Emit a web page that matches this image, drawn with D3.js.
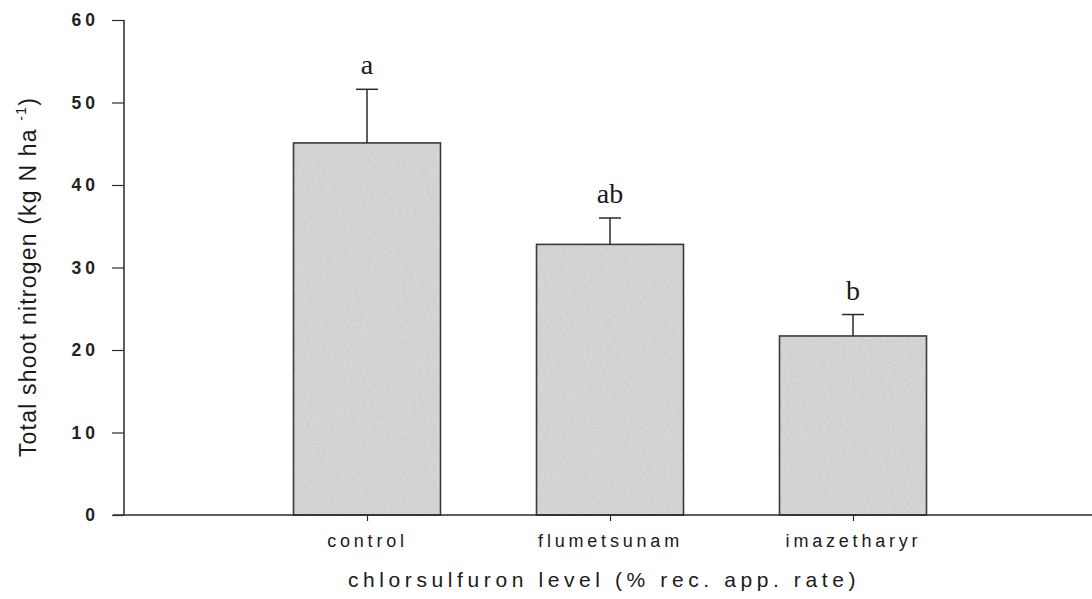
<!DOCTYPE html>
<html>
<head>
<meta charset="utf-8">
<script src="https://cdn.jsdelivr.net/npm/d3@7"></script>
<style>
  html, body { margin: 0; padding: 0; background: #fff; }
  svg { display: block; }
</style>
</head>
<body>
<svg id="chart" width="1092" height="599"></svg>
<script>
// Treatments and their mean total shoot nitrogen (kg N/ha) with standard error
const categories = ["control", "flumetsunam", "imazetharyr"];
const means = [45.1, 32.8, 21.7];
const errors = [6.5, 3.2, 2.6];
const letters = ["a", "ab", "b"];
const yTicks = [0, 10, 20, 30, 40, 50, 60];

const svg = d3.select("#chart");
const sans = "Arial, 'Liberation Sans', sans-serif";

// Categories sit at positions 1..3 on a 0..4 linear axis
const x = d3.scaleLinear().domain([0, 4]).range([124, 1096]);
const y = d3.scaleLinear().domain([0, 60]).range([515, 20]);
const barWidth = 147;

// Stippled grey texture for the bars
const defs = svg.append("defs");
const filt = defs.append("filter").attr("id", "grain")
  .attr("x", 0).attr("y", 0).attr("width", 1).attr("height", 1);
filt.append("feTurbulence").attr("type", "fractalNoise")
  .attr("baseFrequency", "0.3 0.55").attr("numOctaves", 2).attr("seed", 4).attr("result", "noise");
filt.append("feColorMatrix").attr("in", "noise").attr("type", "matrix")
  .attr("values", "0 0 0 0 0.6  0 0 0 0 0.6  0 0 0 0 0.6  0 0 0 -1.8 1.15")
  .attr("result", "speck");
filt.append("feComposite").attr("in", "speck").attr("in2", "SourceGraphic").attr("operator", "in").attr("result", "specks");
filt.append("feMerge").selectAll("feMergeNode")
  .data(["SourceGraphic", "specks"]).enter().append("feMergeNode").attr("in", d => d);

const axisColor = "#2a2a2a";

// Bars
const bars = svg.append("g");
bars.selectAll("rect.fill").data(means).enter().append("rect")
  .attr("class", "fill")
  .attr("x", (d, i) => x(i + 1) - barWidth / 2)
  .attr("y", d => y(d))
  .attr("width", barWidth)
  .attr("height", d => y(0) - y(d))
  .attr("fill", "#d6d6d6")
  .attr("filter", "url(#grain)");
bars.selectAll("rect.edge").data(means).enter().append("rect")
  .attr("class", "edge")
  .attr("x", (d, i) => x(i + 1) - barWidth / 2)
  .attr("y", d => y(d))
  .attr("width", barWidth)
  .attr("height", d => y(0) - y(d))
  .attr("fill", "none")
  .attr("stroke", "#3a3a3a")
  .attr("stroke-width", 1.6);

// Error bars (upper half only)
const eb = svg.append("g").attr("stroke", "#2a2a2a").attr("stroke-width", 1.5);
means.forEach((m, i) => {
  const cx = x(i + 1);
  eb.append("line").attr("x1", cx).attr("x2", cx).attr("y1", y(m)).attr("y2", y(m + errors[i]));
  eb.append("line").attr("x1", cx - 11).attr("x2", cx + 11).attr("y1", y(m + errors[i])).attr("y2", y(m + errors[i]));
});

// Significance letters
svg.append("g").selectAll("text").data(letters).enter().append("text")
  .attr("x", (d, i) => x(i + 1))
  .attr("y", (d, i) => y(means[i] + errors[i]) - 15)
  .attr("text-anchor", "middle")
  .attr("font-family", "'Liberation Serif', 'Times New Roman', serif")
  .attr("font-size", 28)
  .attr("fill", "#1a1a1a")
  .text(d => d);

// Y axis
const yAxis = svg.append("g").attr("transform", `translate(${x(0)},0)`)
  .call(d3.axisLeft(y).tickValues(yTicks).tickSize(12).tickPadding(13));
yAxis.select(".domain").attr("stroke", axisColor).attr("stroke-width", 1.5)
  .attr("d", `M0,${y(60)}V${y(0)}`);
yAxis.selectAll(".tick line").attr("stroke", axisColor).attr("stroke-width", 1.2);
yAxis.selectAll(".tick text")
  .attr("font-family", sans)
  .attr("font-size", 17.5).attr("font-weight", "bold").attr("fill", "#222")
  .attr("letter-spacing", "4px");

// X axis spanning the full width
const xAxis = svg.append("g").attr("transform", `translate(0,${y(0)})`)
  .call(d3.axisBottom(x).tickValues([1, 2, 3]).tickFormat(d => categories[d - 1]).tickSize(6).tickPadding(13));
xAxis.select(".domain").attr("stroke", axisColor).attr("stroke-width", 1.5)
  .attr("d", `M113,0H1092`);
xAxis.selectAll(".tick line").attr("stroke", axisColor).attr("stroke-width", 1.2);
xAxis.selectAll(".tick text")
  .attr("font-family", sans)
  .attr("font-size", 18).attr("fill", "#1a1a1a")
  .attr("letter-spacing", "3.8px");

// Axis titles
svg.append("text")
  .attr("x", 604).attr("y", 587)
  .attr("text-anchor", "middle")
  .attr("font-family", sans)
  .attr("font-size", 21).attr("fill", "#1a1a1a")
  .attr("letter-spacing", "4.6px")
  .text("chlorsulfuron level (% rec. app. rate)");

const yt = svg.append("text")
  .attr("transform", "translate(36,277) rotate(-90)")
  .attr("text-anchor", "middle")
  .attr("font-family", sans)
  .attr("font-size", 23).attr("fill", "#1a1a1a")
  .attr("letter-spacing", "1.2px");
yt.append("tspan").text("Total shoot nitrogen (kg N ha ");
yt.append("tspan").attr("dy", -10).attr("font-size", 14).text("-1");
yt.append("tspan").attr("dy", 10).text(")");
</script>
</body>
</html>
